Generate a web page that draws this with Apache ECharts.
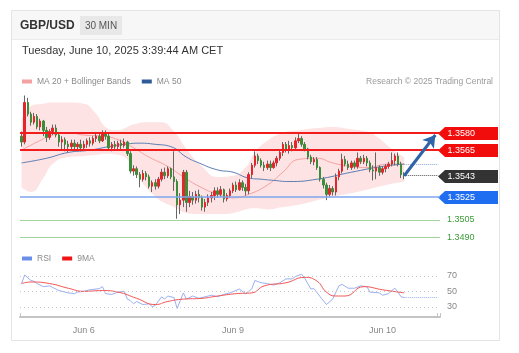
<!DOCTYPE html>
<html>
<head>
<meta charset="utf-8">
<script src="https://cdn.jsdelivr.net/npm/echarts@6/dist/echarts.min.js"></script>
<style>
html,body{margin:0;padding:0;background:#fff;}
#chart{width:519px;height:353px;}
</style>
</head>
<body>
<div id="chart"></div>
<script>
// 30 min candles: [open, close, low, high]
var candles = [
  [1.3577,1.3572,1.3568,1.3581],[1.3572,1.3606,1.3570,1.3612],[1.3606,1.3596,1.3594,1.3610],[1.3596,1.3589,1.3586,1.3598],
  [1.3589,1.3594,1.3587,1.3597],[1.3594,1.3585,1.3583,1.3596],[1.3585,1.3590,1.3582,1.3592],[1.3590,1.3582,1.3577,1.3591],
  [1.3582,1.3576,1.3572,1.3585],[1.3576,1.3581,1.3574,1.3583],[1.3581,1.3584,1.3578,1.3587],[1.3584,1.3578,1.3576,1.3587],
  [1.3578,1.3572,1.3568,1.3580],[1.3572,1.3574,1.3565,1.3577],[1.3574,1.3570,1.3564,1.3576],[1.3570,1.3568,1.3563,1.3573],
  [1.3568,1.3571,1.3566,1.3574],[1.3571,1.3568,1.3564,1.3574],[1.3568,1.3570,1.3564,1.3572],[1.3570,1.3567,1.3564,1.3574],
  [1.3567,1.3570,1.3565,1.3573],[1.3570,1.3573,1.3567,1.3575],[1.3573,1.3571,1.3568,1.3576],[1.3571,1.3575,1.3569,1.3577],
  [1.3575,1.3577,1.3572,1.3580],[1.3577,1.3573,1.3571,1.3579],[1.3573,1.3579,1.3572,1.3582],[1.3579,1.3577,1.3574,1.3582],
  [1.3577,1.3567,1.3565,1.3579],[1.3567,1.3570,1.3564,1.3572],[1.3570,1.3568,1.3565,1.3573],[1.3568,1.3571,1.3566,1.3573],
  [1.3571,1.3569,1.3566,1.3574],[1.3569,1.3572,1.3567,1.3575],[1.3572,1.3562,1.3560,1.3573],[1.3562,1.3547,1.3545,1.3564],
  [1.3547,1.3549,1.3543,1.3552],[1.3549,1.3544,1.3541,1.3551],[1.3544,1.3540,1.3533,1.3546],[1.3540,1.3545,1.3538,1.3548],
  [1.3545,1.3542,1.3539,1.3547],[1.3542,1.3534,1.3532,1.3544],[1.3534,1.3537,1.3529,1.3539],[1.3537,1.3534,1.3531,1.3540],
  [1.3534,1.3540,1.3532,1.3542],[1.3540,1.3546,1.3538,1.3549],[1.3546,1.3543,1.3540,1.3550],[1.3543,1.3549,1.3541,1.3551],
  [1.3549,1.3542,1.3540,1.3550],[1.3542,1.3538,1.3530,1.3564],[1.3538,1.3518,1.3506,1.3540],[1.3518,1.3522,1.3510,1.3528],
  [1.3522,1.3546,1.3516,1.3548],[1.3546,1.3520,1.3512,1.3548],[1.3520,1.3525,1.3516,1.3530],[1.3525,1.3522,1.3518,1.3529],
  [1.3522,1.3527,1.3519,1.3530],[1.3527,1.3524,1.3520,1.3531],[1.3524,1.3516,1.3513,1.3526],[1.3516,1.3520,1.3512,1.3523],
  [1.3520,1.3524,1.3517,1.3527],[1.3524,1.3526,1.3520,1.3529],[1.3526,1.3530,1.3522,1.3533],[1.3530,1.3527,1.3524,1.3533],
  [1.3527,1.3531,1.3525,1.3534],[1.3531,1.3523,1.3520,1.3532],[1.3523,1.3526,1.3521,1.3528],[1.3526,1.3530,1.3524,1.3532],
  [1.3530,1.3535,1.3528,1.3537],[1.3535,1.3531,1.3529,1.3538],[1.3531,1.3537,1.3530,1.3540],[1.3537,1.3533,1.3530,1.3539],
  [1.3533,1.3530,1.3526,1.3536],[1.3530,1.3544,1.3527,1.3546],[1.3544,1.3552,1.3541,1.3554],[1.3552,1.3560,1.3550,1.3564],
  [1.3560,1.3556,1.3553,1.3562],[1.3556,1.3552,1.3550,1.3558],[1.3552,1.3550,1.3547,1.3555],[1.3550,1.3553,1.3548,1.3556],
  [1.3553,1.3550,1.3547,1.3556],[1.3550,1.3554,1.3549,1.3556],[1.3554,1.3558,1.3551,1.3560],[1.3558,1.3563,1.3556,1.3566],
  [1.3563,1.3570,1.3560,1.3572],[1.3570,1.3566,1.3563,1.3572],[1.3566,1.3569,1.3562,1.3573],[1.3569,1.3567,1.3564,1.3572],
  [1.3567,1.3573,1.3565,1.3576],[1.3573,1.3575,1.3571,1.3580],[1.3575,1.3570,1.3568,1.3577],[1.3570,1.3566,1.3564,1.3572],
  [1.3566,1.3559,1.3557,1.3567],[1.3559,1.3555,1.3553,1.3561],[1.3555,1.3557,1.3552,1.3559],[1.3557,1.3550,1.3548,1.3559],
  [1.3550,1.3540,1.3538,1.3551],[1.3540,1.3535,1.3532,1.3542],[1.3535,1.3527,1.3522,1.3537],[1.3527,1.3532,1.3525,1.3535],
  [1.3532,1.3529,1.3526,1.3534],[1.3529,1.3542,1.3526,1.3545],[1.3542,1.3547,1.3539,1.3549],[1.3547,1.3557,1.3545,1.3562],
  [1.3557,1.3553,1.3551,1.3560],[1.3553,1.3550,1.3548,1.3556],[1.3550,1.3554,1.3548,1.3556],[1.3554,1.3551,1.3549,1.3556],
  [1.3551,1.3558,1.3549,1.3563],[1.3558,1.3555,1.3553,1.3560],[1.3555,1.3558,1.3553,1.3561],[1.3558,1.3554,1.3551,1.3560],
  [1.3554,1.3548,1.3546,1.3556],[1.3548,1.3547,1.3539,1.3552],[1.3547,1.3550,1.3540,1.3563],[1.3550,1.3546,1.3543,1.3552],
  [1.3546,1.3549,1.3544,1.3551],[1.3549,1.3551,1.3546,1.3553],[1.3551,1.3553,1.3549,1.3555],[1.3553,1.3556,1.3551,1.3563],
  [1.3556,1.3560,1.3552,1.3562],[1.3560,1.3553,1.3551,1.3563],[1.3553,1.3544,1.3541,1.3555],[1.3544,1.3543,1.3540,1.3546]
];

// indicator readings [candle index, value]
var ma20 = [[0,1.3565],[5,1.3572],[10,1.3578],[15,1.3580],[20,1.3578],[26,1.3577],[31,1.3574],[36,1.3567],[41,1.3559],
  [47,1.3551],[52,1.3542],[57,1.3534],[63,1.3527],[68,1.3524],[73,1.3527],[79,1.3535],[84,1.3546],[89,1.3557],
  [95,1.3558],[100,1.3554],[106,1.3551],[111,1.3550],[118,1.3553],[123,1.3553]];
var ma50 = [[0,1.3554],[8,1.3558],[15,1.3563],[22,1.3565],[28,1.3568],[33,1.3570],[38,1.3571],[43,1.3570],[48,1.3568],
  [53,1.3559],[57,1.3554],[63,1.3548],[68,1.3546],[73,1.3541],[77,1.3540],[81,1.3539],[86,1.3538],[95,1.3540],
  [106,1.3546],[116,1.3551],[123,1.3553]];
var bbUpper = [[0,1.3590],[3,1.3603],[7,1.3605],[10,1.3606],[15,1.3606],[20,1.3605],[24,1.3596],[27,1.3585],[31,1.3582],
  [34,1.3585],[36,1.3587],[40,1.3589],[43,1.3589],[45,1.3589],[49,1.3581],[53,1.3566],[58,1.3551],[63,1.3542],
  [68,1.3543],[72,1.3550],[75,1.3563],[79,1.3573],[84,1.3580],[89,1.3582],[95,1.3584],[100,1.3585],[106,1.3583],
  [111,1.3581],[114,1.3577],[119,1.3566],[123,1.3559]];
var bbLower = [[0,1.3533],[3,1.3529],[7,1.3541],[10,1.3553],[15,1.3559],[20,1.3560],[24,1.3561],[27,1.3562],[31,1.3561],
  [34,1.3557],[36,1.3548],[40,1.3533],[43,1.3525],[45,1.3521],[49,1.3516],[53,1.3511],[58,1.3510],[63,1.3510],
  [68,1.3511],[72,1.3514],[75,1.3515],[79,1.3514],[84,1.3516],[89,1.3518],[95,1.3522],[100,1.3525],[106,1.3528],
  [111,1.3531],[114,1.3533],[119,1.3536],[123,1.3538]];

var rsi = [[0,60],[1,71],[3,64],[4,63],[5,60],[7,56],[9,57],[10,55],[12,51],[13,50],[15,48],[17,47],[18,49],[20,50],
  [22,52],[25,53.5],[26,56],[27,47],[29,46],[31,49],[33,50],[34,40],[35,38],[36,34],[37,37],[39,33],[41,34],[42,30],
  [43,32],[45,43],[46,40],[47,44],[49,42],[50,28],[52,48],[53,40],[55,44],[57,41],[59,43],[61,45],[63,43],[65,46],
  [67,48],[70,53],[72,47],[74,53],[75,64],[77,61],[79,60],[81,58],[83,61],[85,66],[87,66],[88,69],[90,72],[91,67],
  [93,53],[94,53.5],[96,43],[98,33],[100,40],[102,57],[103,59],[105,54],[107,54],[109,57],[111,56],[112,49],[115,48],
  [116,45],[118,47],[119,51],[120,54],[121,49],[122,43],[123,42]];
var rsiMa = [[0,60],[3,62],[9,60],[15,54],[20,50],[26,51],[31,49],[37,41],[43,33],[47,37],[52,40],[58,41],[63,44],
  [69,47],[74,48],[78,57],[85,61],[91,68],[95,63],[98,49],[101,44],[104,44],[110,56],[116,52],[123,48]];

var resistances = [1.3580, 1.3565];
var pivot = 1.3543;
var supportMain = 1.3525;
var supports = [1.3505, 1.3490];
var target = 1.3578;
var rsiLevels = [70, 50, 30];
var rsiNow = 42;
var ma50Now = 1.3553;

var totalSlots = 135;

function pad(n) { return (n < 10 ? '0' : '') + n; }
function buildTimes(n) {
  var out = [];
  var t = Date.UTC(2025, 5, 5, 14, 0);
  while (out.length < n) {
    var d = new Date(t);
    var day = d.getUTCDay(), h = d.getUTCHours();
    var closed = (day === 5 && h >= 23) || day === 6 || (day === 0 && h < 23);
    if (!closed) out.push('Jun ' + d.getUTCDate() + ' ' + pad(h) + ':' + pad(d.getUTCMinutes()));
    t += 1800000;
  }
  return out;
}
var times = buildTimes(totalSlots);
var last = candles.length - 1;

var bodies = candles.map(function (c) {
  return [c[0], c[1], Math.min(c[0], c[1]), Math.max(c[0], c[1])];
});
var bbWidth = bbUpper.map(function (p, k) { return [p[0], +(p[1] - bbLower[k][1]).toFixed(5)]; });

var FONT = '"Liberation Sans", Arial, sans-serif';
var chart = echarts.init(document.getElementById('chart'));

var header = [
  {type: 'rect', id: 'card', z: -10, shape: {x: 11.5, y: 10.5, width: 488, height: 330}, style: {fill: '#fff', stroke: '#e4e4e4', lineWidth: 1}},
  {type: 'rect', id: 'head', z: -9, shape: {x: 12, y: 11, width: 487, height: 28}, style: {fill: '#f7f7f7'}},
  {type: 'line', id: 'headLine', z: -9, shape: {x1: 12, y1: 39.5, x2: 499, y2: 39.5}, style: {stroke: '#ebebeb', lineWidth: 1}},
  {type: 'text', id: 'pair', x: 20, y: 26, style: {text: 'GBP/USD', fill: '#333', font: 'bold 12px ' + FONT, verticalAlign: 'middle'}},
  {type: 'rect', id: 'badge', shape: {x: 80, y: 16, width: 42, height: 19}, style: {fill: '#e8e8e8'}},
  {type: 'text', id: 'badgeText', x: 101, y: 26, style: {text: '30 MIN', fill: '#555', font: '10px ' + FONT, align: 'center', verticalAlign: 'middle'}},
  {type: 'text', id: 'date', x: 22, y: 50.5, style: {text: 'Tuesday, June 10, 2025 3:39:44 AM CET', fill: '#333', font: '11px ' + FONT, verticalAlign: 'middle'}},
  {type: 'text', id: 'credit', x: 493, y: 81.5, style: {text: 'Research \u00a9 2025 Trading Central', fill: '#9a9a9a', font: '8.5px ' + FONT, align: 'right', verticalAlign: 'middle'}}
];

function fixed4(p) { return p.value.toFixed(4); }

var option = {
  animation: false,
  textStyle: {fontFamily: FONT},
  graphic: header,
  legend: [
    {data: ['MA 20 + Bollinger Bands', 'MA 50'], left: 22, top: 77, padding: 0, icon: 'rect', itemWidth: 10, itemHeight: 4,
      itemGap: 11, textStyle: {color: '#8a8a8a', fontSize: 8.5}, selectedMode: false},
    {data: ['RSI', '9MA'], left: 22, top: 254, padding: 0, icon: 'rect', itemWidth: 10, itemHeight: 4,
      itemGap: 11, textStyle: {color: '#8a8a8a', fontSize: 8.5}, selectedMode: false}
  ],
  grid: [
    {left: 20, right: 79, top: 92, height: 150},
    {left: 20, right: 79, top: 268, height: 49}
  ],
  xAxis: [
    {type: 'category', gridIndex: 0, data: times, boundaryGap: true, show: false},
    {type: 'category', gridIndex: 1, data: times, boundaryGap: true,
      axisLine: {lineStyle: {color: '#c4c4c4', width: 2}},
      axisTick: {show: true, inside: true, length: 4, lineStyle: {color: '#c4c4c4'},
        interval: function (i) { return i === 0 || i === totalSlots - 1; }},
      axisLabel: {color: '#888', fontSize: 9, margin: 9,
        interval: function (i, v) { return v.slice(-5) === '00:00'; },
        formatter: function (v) { return v.slice(0, -6); }}}
  ],
  yAxis: [
    {type: 'value', gridIndex: 0, min: 1.3486, max: 1.3615, show: false, splitLine: {show: false}},
    {type: 'value', gridIndex: 1, min: 17, max: 80, show: false, splitLine: {show: false}}
  ],
  series: [
    {type: 'line', name: 'bbLower', data: bbLower, stack: 'bb', smooth: true, symbol: 'none', silent: true,
      lineStyle: {opacity: 0}, z: 1},
    {type: 'line', name: 'bbWidth', data: bbWidth, stack: 'bb', smooth: true, symbol: 'none', silent: true,
      lineStyle: {opacity: 0}, areaStyle: {color: '#fde3e3', opacity: 1}, z: 1},
    {type: 'line', name: 'MA 20 + Bollinger Bands', data: ma20, smooth: true, symbol: 'none',
      itemStyle: {color: '#f6a1a1'}, lineStyle: {color: '#f6a1a1', width: 1}, z: 2},
    {type: 'line', name: 'MA 50', data: ma50, smooth: true, symbol: 'none',
      itemStyle: {color: '#2f5a9a'}, lineStyle: {color: '#5a7db3', width: 1}, z: 2},
    {type: 'candlestick', name: 'wick', data: candles, barWidth: 1, z: 3,
      itemStyle: {color: '#666', color0: '#666', borderColor: '#666', borderColor0: '#666', borderWidth: 1}},
    {type: 'candlestick', name: 'body', data: bodies, barWidth: 2, z: 4,
      itemStyle: {color: '#e3262b', color0: '#3b8e39', borderColor: '#e3262b', borderColor0: '#3b8e39', borderWidth: 1}},
    {type: 'line', name: 'levels', data: [], symbol: 'none', z: 5,
      markLine: {
        silent: true, symbol: ['none', 'none'], animation: false, precision: 5,
        label: {show: false},
        data: [
          {yAxis: resistances[0], lineStyle: {color: '#f21c1c', width: 2, type: 'solid'}},
          {yAxis: resistances[1], lineStyle: {color: '#f21c1c', width: 2, type: 'solid'}},
          {yAxis: supportMain, lineStyle: {color: '#7ea6ee', width: 1.5, type: 'solid'}},
          {yAxis: supports[0], lineStyle: {color: '#9fd49c', width: 1, type: 'solid'},
            label: {show: true, position: 'end', distance: 7, color: '#3c9c3a', fontSize: 9, formatter: fixed4}},
          {yAxis: supports[1], lineStyle: {color: '#9fd49c', width: 1, type: 'solid'},
            label: {show: true, position: 'end', distance: 7, color: '#3c9c3a', fontSize: 9, formatter: fixed4}},
          [{coord: [times[last], pivot], lineStyle: {color: '#555', width: 1, type: 'dotted'}},
           {coord: [times[totalSlots - 1], pivot]}],
          [{coord: [times[last], ma50Now], lineStyle: {color: '#8ea6d2', width: 1, type: 'dotted'}},
           {coord: [times[totalSlots - 1], ma50Now]}],
          [{coord: [times[last], pivot], symbol: 'none', lineStyle: {color: '#2f64a8', width: 3, type: 'solid'}},
           {coord: [times[totalSlots - 2], target], symbol: 'arrow', symbolSize: [11, 12]}]
        ]
      }},
    {type: 'line', name: 'RSI', xAxisIndex: 1, yAxisIndex: 1, data: rsi, symbol: 'none',
      itemStyle: {color: '#6b8ee8'}, lineStyle: {color: '#9bb0ef', width: 1}, z: 3,
      markLine: {
        silent: true, symbol: ['none', 'none'],
        data: rsiLevels.map(function (v) {
          return {yAxis: v, lineStyle: {color: '#c8c8c8', width: 1, type: [1, 3]},
            label: {show: true, position: 'end', distance: 7, color: '#888', fontSize: 9}};
        }).concat([[
          {coord: [times[last], rsiNow], lineStyle: {color: '#9bb0ef', width: 1, type: 'dotted'}, label: {show: false}},
          {coord: [times[totalSlots - 1], rsiNow]}
        ]])
      }},
    {type: 'line', name: '9MA', xAxisIndex: 1, yAxisIndex: 1, data: rsiMa, smooth: true, symbol: 'none',
      itemStyle: {color: '#f01414'}, lineStyle: {color: '#f25555', width: 1}, z: 3}
  ]
};
chart.setOption(option);

// price tags at the right edge
function tag(id, price, color) {
  var y = Math.round(chart.convertToPixel({yAxisIndex: 0}, price)) + 0.5;
  return [
    {type: 'polygon', id: id + 'Box', shape: {points: [[438, y], [445, y - 6.5], [498, y - 6.5], [498, y + 6.5], [445, y + 6.5]]},
      style: {fill: color}},
    {type: 'text', id: id + 'Txt', x: 447.5, y: y, style: {text: price.toFixed(4), fill: '#fff', font: '9px ' + FONT, verticalAlign: 'middle'}}
  ];
}
var tags = [].concat(
  tag('r1', resistances[0], '#f20d0d'),
  tag('r2', resistances[1], '#f20d0d'),
  tag('pv', pivot, '#333333'),
  tag('s1', supportMain, '#1f6ef2')
);
chart.setOption({graphic: header.concat(tags)});
</script>
</body>
</html>
